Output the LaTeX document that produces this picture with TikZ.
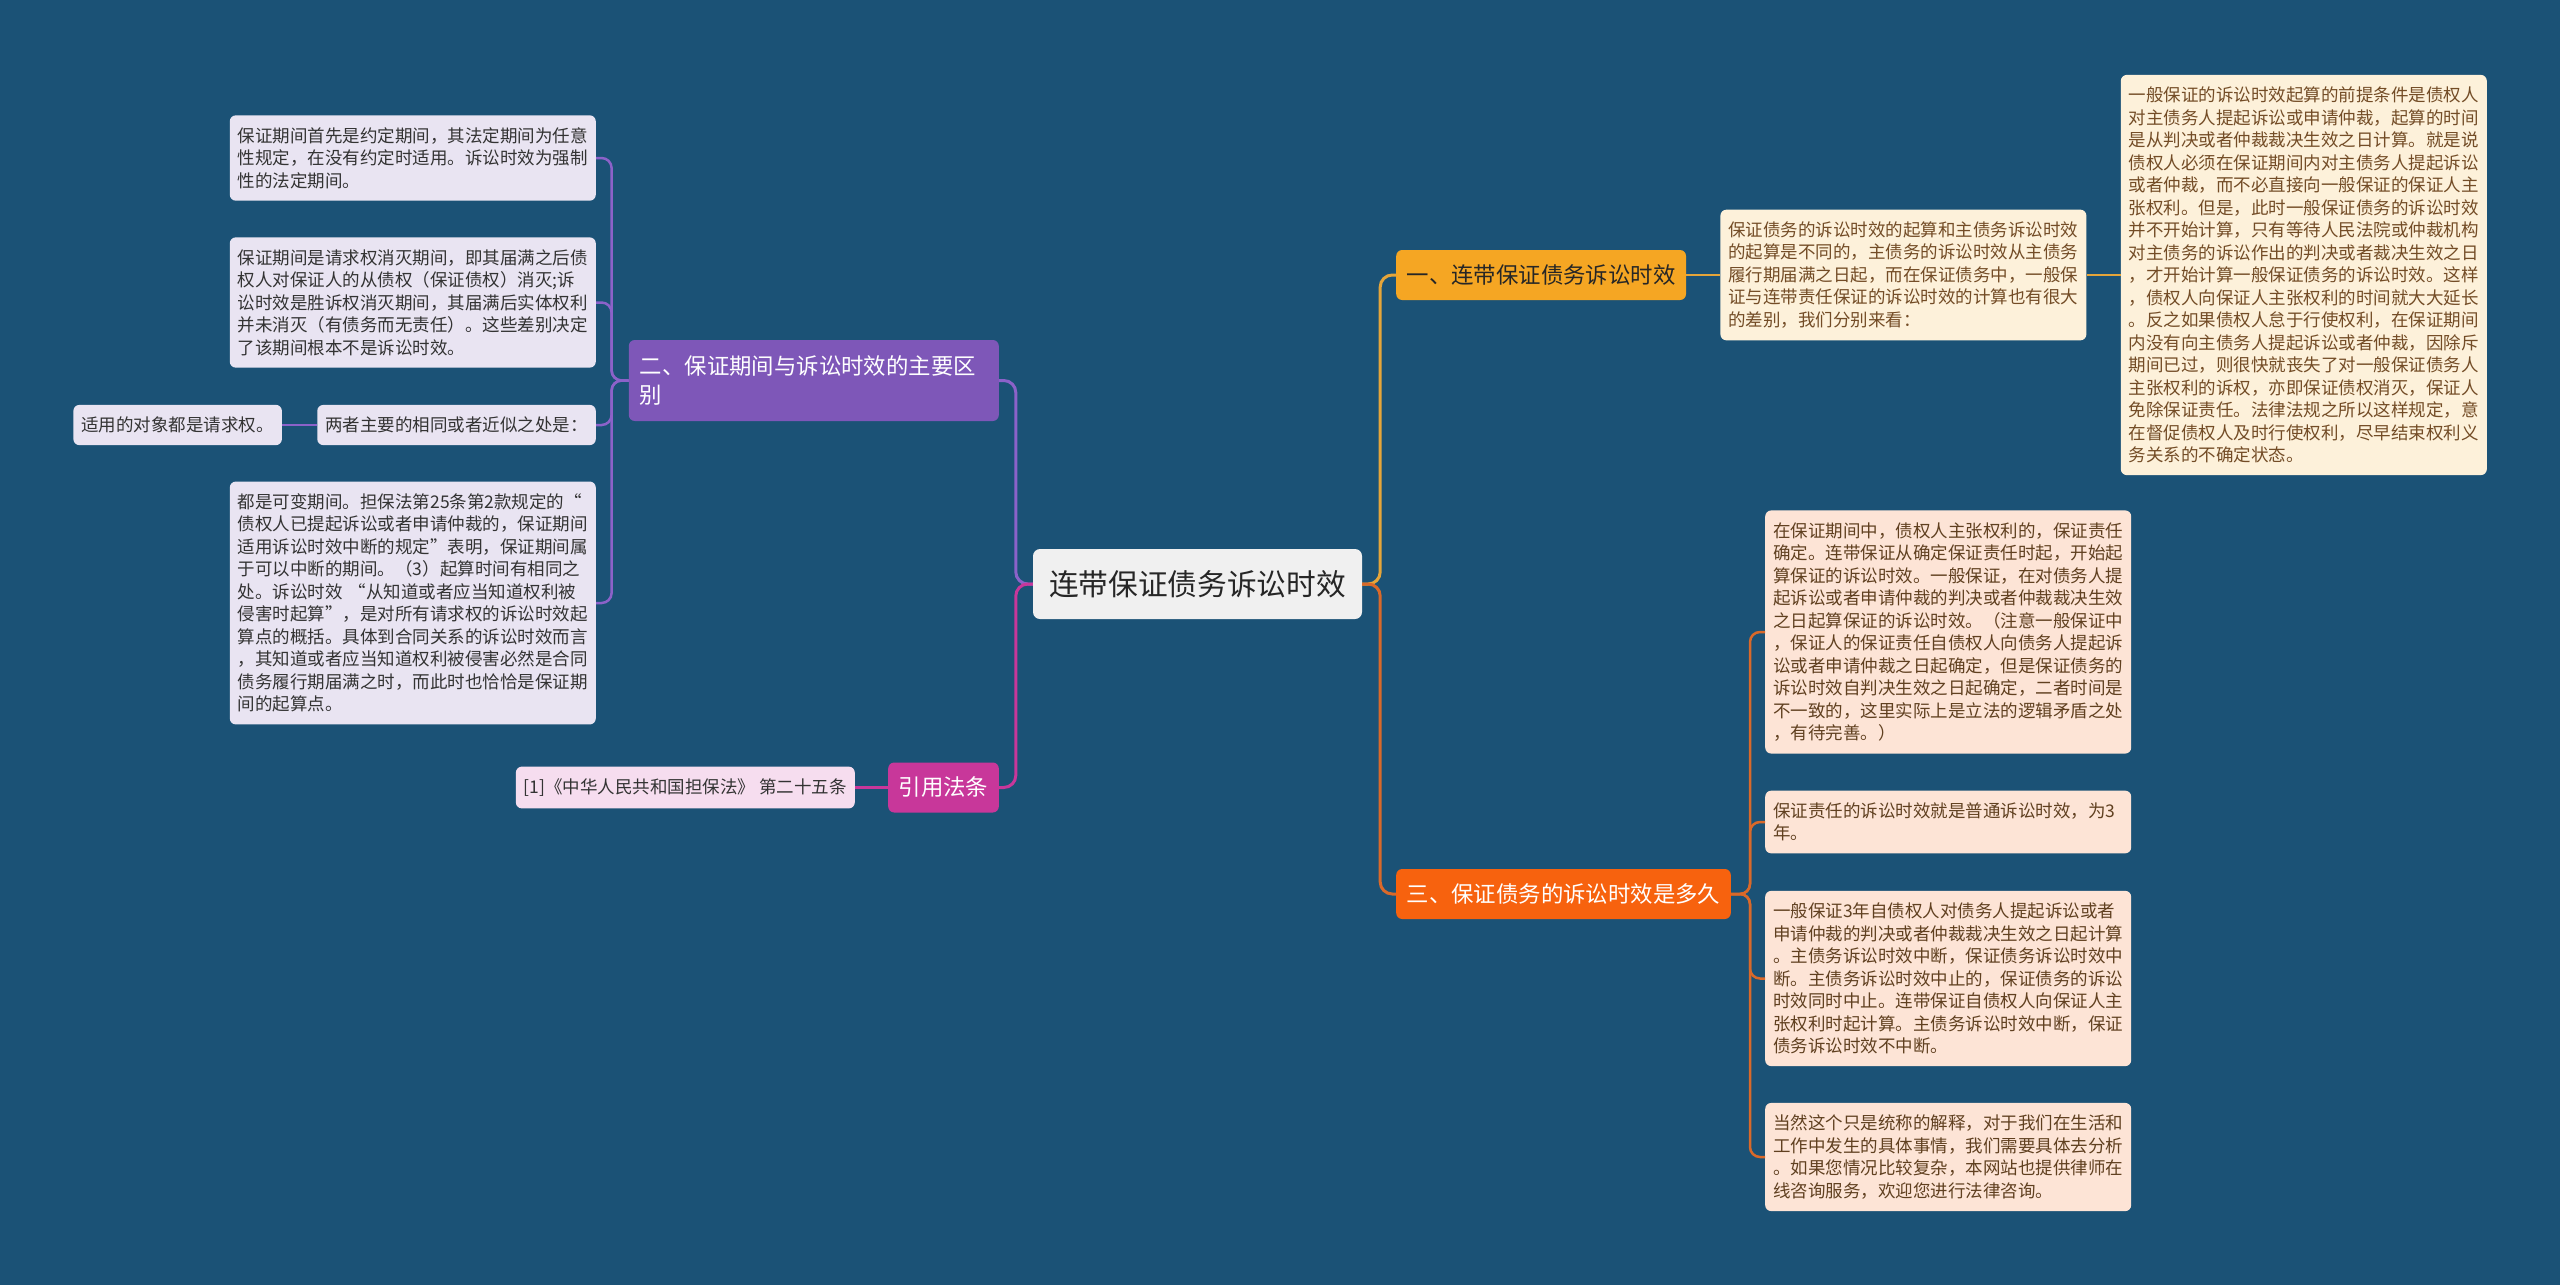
\documentclass[tikz,border=0pt]{standalone}
\usepackage{fontspec}
\newfontfamily\cjk{Noto Sans CJK SC}
\usetikzlibrary{positioning}

\definecolor{bgblue}{HTML}{1B5276}
\definecolor{rootfill}{HTML}{F0F0F0}
\definecolor{purplefill}{HTML}{7E57B8}
\definecolor{purpleline}{HTML}{8C62C9}
\definecolor{purpleleaf}{HTML}{E9E4F2}
\definecolor{pinkfill}{HTML}{C8379A}
\definecolor{pinkleaf}{HTML}{F6DDEF}
\definecolor{goldfill}{HTML}{F5A623}
\definecolor{goldline}{HTML}{E5A53A}
\definecolor{goldleaf}{HTML}{FDF1DA}
\definecolor{orangefill}{HTML}{F7620E}
\definecolor{orangeline}{HTML}{D9692A}
\definecolor{orangeleaf}{HTML}{FDE4D6}

\newcommand{\leaffont}{\cjk\fontsize{17.5pt}{22.5pt}\selectfont}
\newcommand{\branchfont}{\cjk\fontsize{22.4pt}{29pt}\selectfont}
\newcommand{\topicfont}{\cjk\fontsize{29.7pt}{36pt}\selectfont}

\begin{document}
\begin{tikzpicture}[
        x=1pt, y=-1pt,
        topic/.style={rectangle, rounded corners=7pt, fill=rootfill, text=black!85,
            minimum width=329pt, minimum height=70pt, font=\topicfont},
        branch/.style={rectangle, rounded corners=6pt, inner xsep=10.5pt,
            minimum height=50pt, font=\branchfont},
        leaf/.style={rectangle, rounded corners=6pt, inner xsep=8pt, inner ysep=12pt,
            align=left, font=\leaffont},
        wide/.style={leaf, text width=350pt},
        link/.style={line width=3pt, rounded corners=12pt},
        sublink/.style={line width=2.5pt, rounded corners=10pt},
    ]
        % canvas
        \fill[bgblue] (0,0) rectangle (2560,1285);
        \useasboundingbox (0,0) rectangle (2560,1285);

        \node[topic] (root) at (1197.5,584) {连带保证债务诉讼时效};

        % left side
        \node[branch, fill=purplefill, text=white, text width=348pt, inner xsep=11pt,
            align=left, minimum height=81pt, anchor=east] (l1) at (999,380.5)
            {二、保证期间与诉讼时效的主要区\\别};
        \node[branch, fill=pinkfill, text=white, anchor=east] (l2) at (999,787.5) {引用法条};

        \node[wide, fill=purpleleaf, text=black!80, anchor=east] (a1) at (596,158)
            {保证期间首先是约定期间，其法定期间为任意\\性规定，在没有约定时适用。诉讼时效为强制\\性的法定期间。};
        \node[wide, fill=purpleleaf, text=black!80, anchor=east] (a2) at (596,302.5)
            {保证期间是请求权消灭期间，即其届满之后债\\权人对保证人的从债权（保证债权）消灭;诉\\讼时效是胜诉权消灭期间，其届满后实体权利\\并未消灭（有债务而无责任）。这些差别决定\\了该期间根本不是诉讼时效。};
        \node[leaf, fill=purpleleaf, text=black!80, anchor=east] (a3) at (596,425)
            {两者主要的相同或者近似之处是：};
        \node[leaf, fill=purpleleaf, text=black!80, left=35pt of a3] (a3c)
            {适用的对象都是请求权。};
        \node[wide, fill=purpleleaf, text=black!80, anchor=east] (a4) at (596,603)
            {都是可变期间。担保法第25条第2款规定的“\\债权人已提起诉讼或者申请仲裁的，保证期间\\适用诉讼时效中断的规定”表明，保证期间属\\于可以中断的期间。（3）起算时间有相同之\\处。诉讼时效 “从知道或者应当知道权利被\\侵害时起算”，是对所有请求权的诉讼时效起\\算点的概括。具体到合同关系的诉讼时效而言\\，其知道或者应当知道权利被侵害必然是合同\\债务履行期届满之时，而此时也恰恰是保证期\\间的起算点。};

        \node[leaf, fill=pinkleaf, text=black!80, left=33pt of l2] (l2c)
            {[1]《中华人民共和国担保法》 第二十五条};

        % right side
        \node[branch, fill=goldfill, text=black!85, anchor=west] (r1) at (1396,275)
            {一、连带保证债务诉讼时效};
        \node[branch, fill=orangefill, text=white, anchor=west] (r2) at (1396,894)
            {三、保证债务的诉讼时效是多久};

        \node[wide, fill=goldleaf, text=brown!60!black, right=34pt of r1] (r1c)
            {保证债务的诉讼时效的起算和主债务诉讼时效\\的起算是不同的，主债务的诉讼时效从主债务\\履行期届满之日起，而在保证债务中，一般保\\证与连带责任保证的诉讼时效的计算也有很大\\的差别，我们分别来看：};
        \node[wide, fill=goldleaf, text=brown!60!black, right=34pt of r1c] (r1cc)
            {一般保证的诉讼时效起算的前提条件是债权人\\对主债务人提起诉讼或申请仲裁，起算的时间\\是从判决或者仲裁裁决生效之日计算。就是说\\债权人必须在保证期间内对主债务人提起诉讼\\或者仲裁，而不必直接向一般保证的保证人主\\张权利。但是，此时一般保证债务的诉讼时效\\并不开始计算，只有等待人民法院或仲裁机构\\对主债务的诉讼作出的判决或者裁决生效之日\\，才开始计算一般保证债务的诉讼时效。这样\\，债权人向保证人主张权利的时间就大大延长\\。反之如果债权人怠于行使权利，在保证期间\\内没有向主债务人提起诉讼或者仲裁，因除斥\\期间已过，则很快就丧失了对一般保证债务人\\主张权利的诉权，亦即保证债权消灭，保证人\\免除保证责任。法律法规之所以这样规定，意\\在督促债权人及时行使权利，尽早结束权利义\\务关系的不确定状态。};

        \node[wide, fill=orangeleaf, text=brown!50!black, anchor=west] (b1) at (1765,632)
            {在保证期间中，债权人主张权利的，保证责任\\确定。连带保证从确定保证责任时起，开始起\\算保证的诉讼时效。一般保证，在对债务人提\\起诉讼或者申请仲裁的判决或者仲裁裁决生效\\之日起算保证的诉讼时效。（注意一般保证中\\，保证人的保证责任自债权人向债务人提起诉\\讼或者申请仲裁之日起确定，但是保证债务的\\诉讼时效自判决生效之日起确定，二者时间是\\不一致的，这里实际上是立法的逻辑矛盾之处\\，有待完善。）};
        \node[wide, fill=orangeleaf, text=brown!50!black, anchor=west] (b2) at (1765,822)
            {保证责任的诉讼时效就是普通诉讼时效，为3\\年。};
        \node[wide, fill=orangeleaf, text=brown!50!black, anchor=west] (b3) at (1765,978.5)
            {一般保证3年自债权人对债务人提起诉讼或者\\申请仲裁的判决或者仲裁裁决生效之日起计算\\。主债务诉讼时效中断，保证债务诉讼时效中\\断。主债务诉讼时效中止的，保证债务的诉讼\\时效同时中止。连带保证自债权人向保证人主\\张权利时起计算。主债务诉讼时效中断，保证\\债务诉讼时效不中断。};
        \node[wide, fill=orangeleaf, text=brown!50!black, anchor=west] (b4) at (1765,1157)
            {当然这个只是统称的解释，对于我们在生活和\\工作中发生的具体事情，我们需要具体去分析\\。如果您情况比较复杂，本网站也提供律师在\\线咨询服务，欢迎您进行法律咨询。};

        % connectors
        \draw[link, purpleline] (root.west) -- ++(-17,0) |- (l1.east);
        \draw[link, pinkfill] (root.west) -- ++(-17,0) |- (l2.east);
        \draw[link, goldline] (root.east) -- ++(18,0) |- (r1.west);
        \draw[link, orangeline] (root.east) -- ++(18,0) |- (r2.west);

        \foreach \c in {a1,a2,a3,a4}
            \draw[sublink, purpleline] (l1.west) -- ++(-17,0) |- (\c.east);
        \draw[sublink, purpleline] (a3.west) -- (a3c.east);
        \draw[sublink, pinkfill] (l2.west) -- (l2c.east);

        \draw[sublink, goldline] (r1.east) -- (r1c.west);
        \draw[sublink, goldline] (r1c.east) -- (r1cc.west);
        \foreach \c in {b1,b2,b3,b4}
            \draw[sublink, orangeline] (r2.east) -- ++(19,0) |- (\c.west);
    \end{tikzpicture}
\end{document}
